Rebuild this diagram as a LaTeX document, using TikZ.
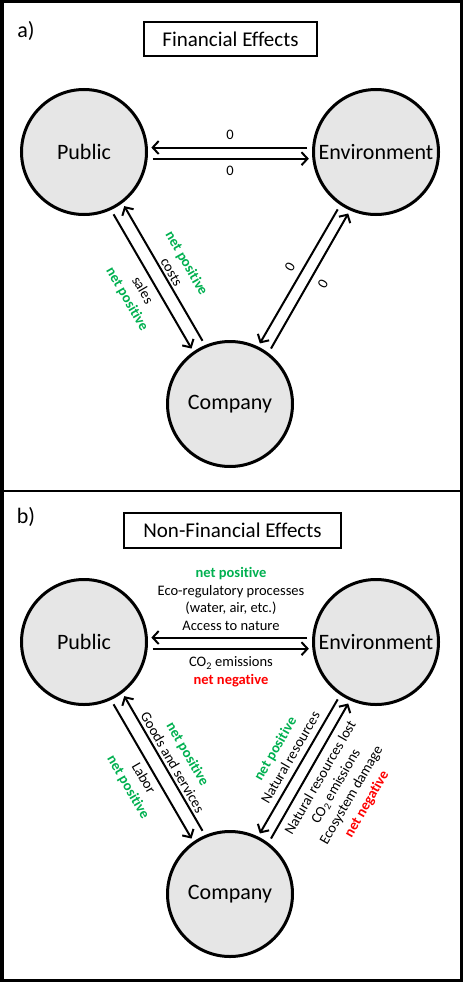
\documentclass[tikz,border=0pt]{standalone}
\usepackage{fontspec}
\setmainfont{Carlito}[Ligatures={NoCommon,NoRare,NoContextual}]
\usetikzlibrary{arrows.meta}
\definecolor{netgreen}{RGB}{0,176,80}
\definecolor{netred}{RGB}{255,0,0}
\definecolor{circfill}{RGB}{230,230,230}
\newcommand{\npos}{\textcolor{netgreen}{\bfseries net positive}}
\newcommand{\nneg}{\textcolor{netred}{\bfseries net negative}}
\begin{document}
\begin{tikzpicture}[x=1pt,y=-1pt,
  party/.style={circle, draw, line width=3pt, fill=circfill, minimum size=125pt, inner sep=0pt, font=\fontsize{22}{26}\selectfont},
  titlebox/.style={draw, line width=1.3pt, inner sep=0pt, font=\fontsize{21}{25}\selectfont},
  panellabel/.style={font=\fontsize{22}{26}\selectfont, inner sep=0pt},
  flow/.style={line width=2pt, -{Straight Barb[length=6pt,width=13pt]}, shorten <=5pt, shorten >=3.5pt},
  lbl/.style={font=\fontsize{14.5}{17.7}\selectfont, align=center, inner sep=0pt}
]
\useasboundingbox (0,0) rectangle (463,982);
\draw[line width=3.5pt] (1.75,1.75) rectangle (461.25,980.25);
\draw[line width=2pt] (0,491) -- (463,491);

% ---------- panel a ----------
\node[panellabel] (labA) at (26,31) {a)};
\node[titlebox, minimum width=173pt, minimum height=34pt] (titleA) at (230.5,39) {Financial Effects};
\node[party] (pubA) at (84,152) {Public};
\node[party] (envA) at (376,152) {Environment};
\node[party] (comA) at (230,404) {Company};

\draw[flow] (envA.176) -- (pubA.4);
\draw[flow] (pubA.-6.7) -- (envA.186.7);
\draw[flow] (pubA.-65) -- (comA.125.2);
\draw[flow] (comA.113.7) -- (pubA.-53.5);
\draw[flow] (envA.-124.2) -- (comA.64);
\draw[flow] (comA.53.9) -- (envA.-114.1);

\node[lbl] (zA1) at (230,135) {0};
\node[lbl] (zA2) at (230,171) {0};
\node[lbl, rotate=-60] (salesA) at (134.5,295) {sales\\\npos};
\node[lbl, rotate=-60] (costsA) at (179.5,267.5) {\npos\\costs};
\node[lbl, rotate=60] (zA3) at (290,267) {0};
\node[lbl, rotate=60] (zA4) at (323,284) {0};

% ---------- panel b ----------
\node[panellabel] (labB) at (26,517) {b)};
\node[titlebox, minimum width=217pt, minimum height=35pt] (titleB) at (232.5,530.5) {Non-Financial Effects};
\node[party] (pubB) at (84,642) {Public};
\node[party] (envB) at (376,642) {Environment};
\node[party] (comB) at (230,894) {Company};

\draw[flow] (envB.176) -- (pubB.4);
\draw[flow] (pubB.-6.7) -- (envB.186.7);
\draw[flow] (pubB.-65) -- (comB.125.2);
\draw[flow] (comB.113.7) -- (pubB.-53.5);
\draw[flow] (envB.-124.2) -- (comB.64);
\draw[flow] (comB.53.9) -- (envB.-114.1);

\node[lbl] (ecoB) at (231,599) {\npos\\Eco-regulatory processes\\(water, air, etc.)\\Access to nature};
\node[lbl] (co2B) at (231,672) {CO\textsubscript{2} emissions\\\nneg};
\node[lbl, rotate=-60] (laborB) at (135.5,783) {Labor\\\npos};
\node[lbl, rotate=-60] (goodsB) at (180.5,758) {\npos\\Goods and services};
\node[lbl, rotate=60] (natB) at (282.5,753) {\npos\\Natural resources};
\node[lbl, rotate=60] (lostB) at (344,791) {Natural resources lost\\CO\textsubscript{2} emissions\\Ecosystem damage\\\nneg};
\end{tikzpicture}
\end{document}
